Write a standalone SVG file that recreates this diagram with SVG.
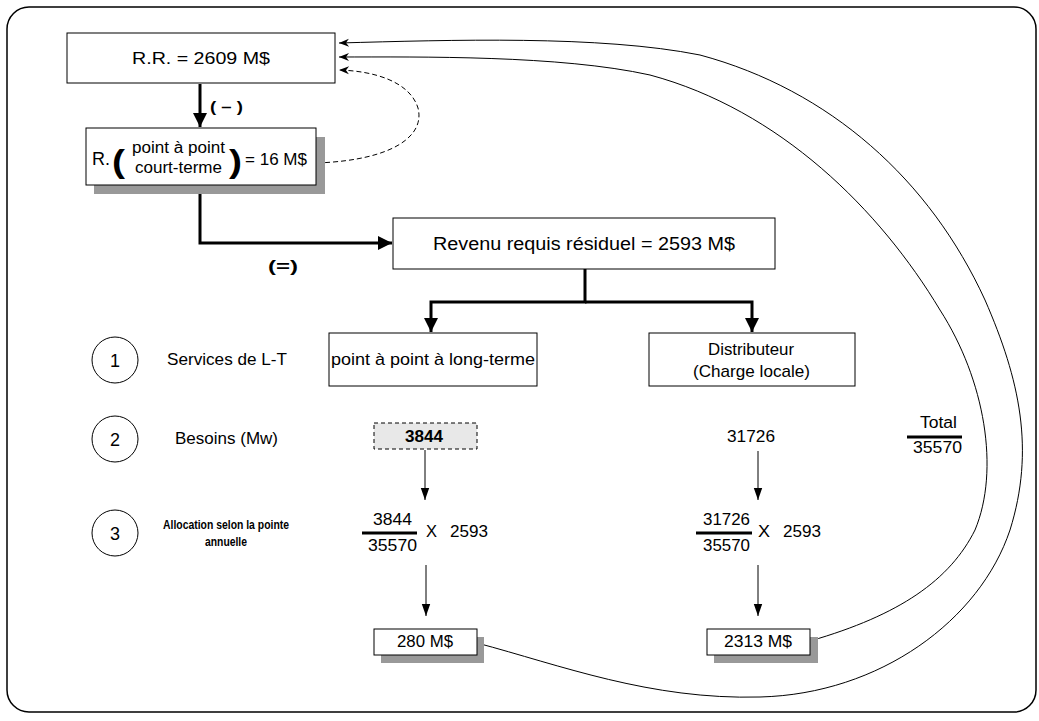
<svg xmlns="http://www.w3.org/2000/svg" width="1039" height="721" viewBox="0 0 1039 721">
<defs>
<style>
text{font-family:"Liberation Sans",Arial,sans-serif;fill:#000}
.box{fill:#fff;stroke:#000;stroke-width:1}
.sh{fill:#999}
.thick{fill:none;stroke:#000;stroke-width:3}
.thin{fill:none;stroke:#000;stroke-width:1}
.dash{fill:none;stroke:#000;stroke-width:1;stroke-dasharray:5 3}
.bar{stroke:#000;stroke-width:3}
.c{text-anchor:middle}
</style>
<marker id="ah" viewBox="0 0 10 10" refX="10" refY="5" markerWidth="14" markerHeight="14" markerUnits="userSpaceOnUse" orient="auto"><path d="M0,0 L10,5 L0,10 z" fill="#000"/></marker>
<marker id="at" viewBox="0 0 10 10" refX="10" refY="5" markerWidth="12" markerHeight="12" markerUnits="userSpaceOnUse" orient="auto"><path d="M0,1.5 L10,5 L0,8.5 z" fill="#000"/></marker>
<marker id="as" viewBox="0 0 10 10" refX="10" refY="5" markerWidth="12" markerHeight="10" markerUnits="userSpaceOnUse" orient="auto"><path d="M0,1 L10,5 L0,9 L3,5 z" fill="#000"/></marker>
</defs>
<rect x="7" y="7" width="1029" height="705" rx="22" fill="#fff" stroke="#000" stroke-width="1.5"/>

<g id="connectors">
<line class="thick" x1="200" y1="84" x2="200" y2="127" marker-end="url(#ah)"/>
<polyline class="thick" points="200,186 200,243 392,243" marker-end="url(#ah)"/>
<polyline class="thick" points="585,269 585,302 431,302 431,332" marker-end="url(#ah)"/>
<polyline class="thick" points="585,302 752,302 752,332" marker-end="url(#ah)"/>
<line class="thin" x1="425" y1="450" x2="425" y2="500" marker-end="url(#at)"/>
<line class="thin" x1="758" y1="451" x2="758" y2="500" marker-end="url(#at)"/>
<line class="thin" x1="426" y1="565" x2="426" y2="616" marker-end="url(#at)"/>
<line class="thin" x1="758" y1="565" x2="758" y2="616" marker-end="url(#at)"/>
<path class="dash" d="M317,163 C395,160 425,135 418,108 C410,82 375,71 339,70" marker-end="url(#as)"/>
<path class="thin" d="M810,641 C900,615 950,580 975,530 C1000,470 985,380 940,310 C880,210 780,110 650,75 C560,55 420,57 339,57" marker-end="url(#as)"/>
<path class="thin" d="M477,643 C560,665 650,700 760,697 C880,694 980,620 1010,530 C1035,450 1020,380 985,300 C930,180 830,90 700,55 C600,35 450,40 339,43" marker-end="url(#as)"/>
<text x="210" y="112" font-size="15" font-weight="bold" textLength="33" lengthAdjust="spacingAndGlyphs">( – )</text>
<text x="268" y="272" font-size="16" font-weight="bold" textLength="30" lengthAdjust="spacingAndGlyphs">(=)</text>
</g>

<g id="rr">
<rect class="box" x="67" y="33" width="268" height="50"/>
<text x="132" y="64" font-size="17" textLength="138" lengthAdjust="spacingAndGlyphs">R.R. = 2609 M$</text>
</g>

<g id="r-court-terme">
<rect class="sh" x="94" y="137" width="231" height="57"/>
<rect class="box" x="86" y="128" width="230" height="57"/>
<text x="92" y="165" font-size="18" textLength="18" lengthAdjust="spacingAndGlyphs">R.</text>
<text x="112" y="172" font-size="32" font-weight="bold" textLength="13" lengthAdjust="spacingAndGlyphs">(</text>
<text x="132" y="153" font-size="16" textLength="93" lengthAdjust="spacingAndGlyphs">point à point</text>
<text x="135" y="173" font-size="16" textLength="87" lengthAdjust="spacingAndGlyphs">court-terme</text>
<text x="229" y="172" font-size="32" font-weight="bold" textLength="13" lengthAdjust="spacingAndGlyphs">)</text>
<text x="245" y="165" font-size="17" textLength="62" lengthAdjust="spacingAndGlyphs">= 16 M$</text>
</g>

<g id="revenu">
<rect class="box" x="393" y="218" width="382" height="51"/>
<text x="433" y="250" font-size="18" textLength="302" lengthAdjust="spacingAndGlyphs">Revenu requis résiduel = 2593 M$</text>
</g>

<g id="ptp-lt">
<rect class="box" x="329" y="333" width="208" height="53"/>
<text x="331" y="365" font-size="17" textLength="204" lengthAdjust="spacingAndGlyphs">point à point à long-terme</text>
</g>

<g id="distributeur">
<rect class="box" x="649" y="333" width="206" height="53"/>
<text x="708" y="355" font-size="17" textLength="86" lengthAdjust="spacingAndGlyphs">Distributeur</text>
<text x="693" y="377" font-size="17" textLength="117" lengthAdjust="spacingAndGlyphs">(Charge locale)</text>
</g>

<g id="step1">
<circle cx="115" cy="360" r="23" fill="#fff" stroke="#000"/>
<text x="115" y="367" class="c" font-size="18">1</text>
<text x="167" y="365" font-size="17" textLength="120" lengthAdjust="spacingAndGlyphs">Services de L-T</text>
</g>
<g id="step2">
<circle cx="115" cy="439" r="23" fill="#fff" stroke="#000"/>
<text x="115" y="446" class="c" font-size="18">2</text>
<text x="175" y="444" font-size="17" textLength="103" lengthAdjust="spacingAndGlyphs">Besoins (Mw)</text>
</g>
<g id="step3">
<circle cx="115" cy="533" r="23" fill="#fff" stroke="#000"/>
<text x="115" y="540" class="c" font-size="18">3</text>
<text x="163" y="529" font-size="13" font-weight="bold" textLength="126" lengthAdjust="spacingAndGlyphs">Allocation selon la pointe</text>
<text x="205" y="546" font-size="13" font-weight="bold" textLength="42" lengthAdjust="spacingAndGlyphs">annuelle</text>
</g>

<g id="besoin-ptp">
<rect x="374" y="423" width="103" height="26" fill="#e8e8e8" stroke="#000" stroke-dasharray="4 3"/>
<text x="405" y="442" font-size="17" font-weight="bold" textLength="38" lengthAdjust="spacingAndGlyphs">3844</text>
</g>
<g id="besoin-dist">
<text x="727" y="442" font-size="17" textLength="48" lengthAdjust="spacingAndGlyphs">31726</text>
</g>
<g id="total">
<text x="920" y="428" font-size="16" textLength="37" lengthAdjust="spacingAndGlyphs">Total</text>
<line class="bar" x1="907" y1="437" x2="962" y2="437"/>
<text x="913" y="453" font-size="17" textLength="49" lengthAdjust="spacingAndGlyphs">35570</text>
</g>

<g id="alloc-ptp">
<text x="373" y="525" font-size="17" textLength="39" lengthAdjust="spacingAndGlyphs">3844</text>
<line class="bar" x1="362" y1="533" x2="417" y2="533"/>
<text x="368" y="551" font-size="17" textLength="49" lengthAdjust="spacingAndGlyphs">35570</text>
<text x="426" y="537" font-size="17" textLength="11" lengthAdjust="spacingAndGlyphs">X</text>
<text x="450" y="537" font-size="17" textLength="38" lengthAdjust="spacingAndGlyphs">2593</text>
</g>
<g id="alloc-dist">
<text x="703" y="525" font-size="17" textLength="47" lengthAdjust="spacingAndGlyphs">31726</text>
<line class="bar" x1="696" y1="533" x2="752" y2="533"/>
<text x="703" y="551" font-size="17" textLength="47" lengthAdjust="spacingAndGlyphs">35570</text>
<text x="758" y="537" font-size="17" textLength="12" lengthAdjust="spacingAndGlyphs">X</text>
<text x="783" y="537" font-size="17" textLength="38" lengthAdjust="spacingAndGlyphs">2593</text>
</g>

<g id="res-ptp">
<rect class="sh" x="381" y="637" width="103" height="26"/>
<rect class="box" x="374" y="629" width="103" height="26"/>
<text x="397" y="647" font-size="17" textLength="56" lengthAdjust="spacingAndGlyphs">280 M$</text>
</g>
<g id="res-dist">
<rect class="sh" x="714" y="637" width="104" height="26"/>
<rect class="box" x="707" y="629" width="103" height="26"/>
<text x="724" y="647" font-size="17" textLength="68" lengthAdjust="spacingAndGlyphs">2313 M$</text>
</g>
</svg>
